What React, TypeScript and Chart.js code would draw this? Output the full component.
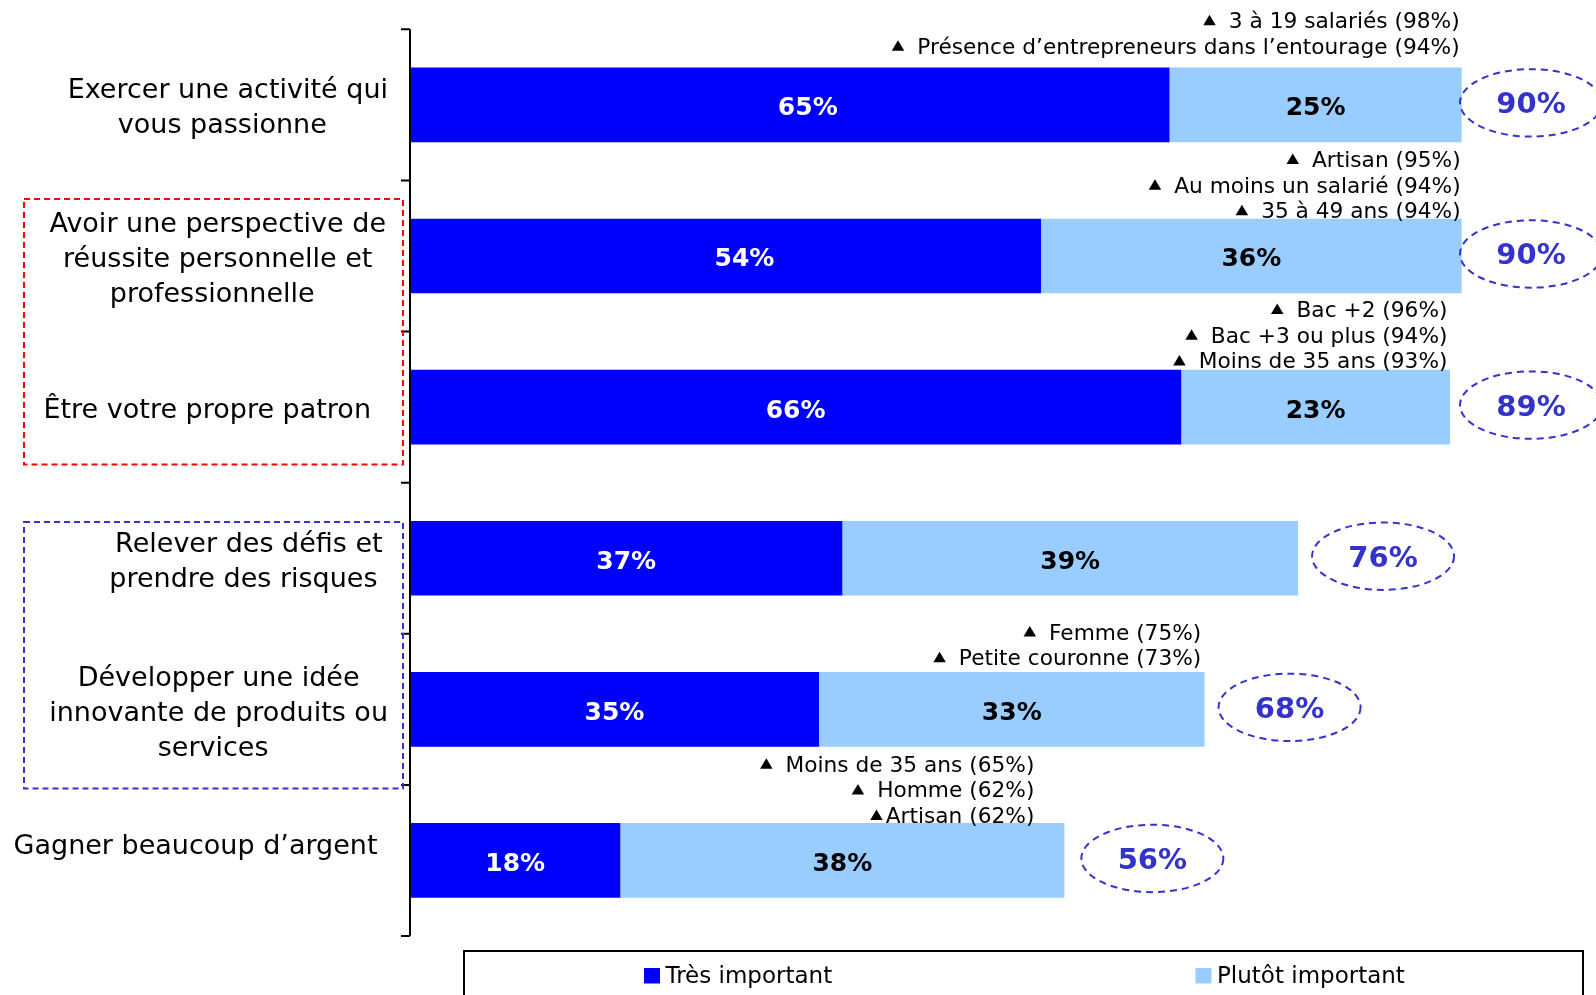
import React, { useEffect, useRef } from "react";
import { Chart, registerables } from "chart.js";

Chart.register(...registerables);

// ---------- DATA ----------
const categories: string[][] = [
  ["Exercer une activité qui", "vous passionne"],
  ["Avoir une perspective de", "réussite personnelle et", "professionnelle"],
  ["Être votre propre patron"],
  ["Relever des défis et", "prendre des risques"],
  ["Développer une idée", "innovante de produits ou", "services"],
  ["Gagner beaucoup d’argent"],
];
const seriesNames = ["Très important", "Plutôt important"];
const tresImportant = [65, 54, 66, 37, 35, 18];
const plutotImportant = [25, 36, 23, 39, 33, 38];
const totals = [90, 90, 89, 76, 68, 56];
const subgroupNotes: string[][] = [
  ["▲ 3 à 19 salariés (98%)", "▲ Présence d’entrepreneurs dans l’entourage (94%)"],
  ["▲ Artisan (95%)", "▲ Au moins un salarié (94%)", "▲ 35 à 49 ans (94%)"],
  ["▲ Bac +2 (96%)", "▲ Bac +3 ou plus (94%)", "▲ Moins de 35 ans (93%)"],
  [],
  ["▲ Femme (75%)", "▲ Petite couronne (73%)"],
  ["▲ Moins de 35 ans (65%)", "▲ Homme (62%)", "▲Artisan (62%)"],
];

// ---------- LAYOUT / STYLE ----------
const FONT = "'DejaVu Sans', Verdana, sans-serif";
const DARK = "#0000FF";
const LIGHT = "#99CCFF";
const PURPLE = "#3333CC";
const labelRight = [388, 386, 371, 383, 388, 377.5];
const labelDy = [11, 11.5, 10.7, 10.8, 12, -6.4];
const darkLabelDx = [18, 19, 0, 0, 0, 0];
const ellipseDx = [0, 0, 0, 0, 0, 3];
const noteDx = [-2, -1, -2.5, 0, -3.3, -30];
const noteDy = [-13.7, -0.3, -1.3, 0, -6.7, 0];

const overlay = {
  id: "overlay",
  afterDatasetsDraw(chart: any) {
    const ctx: CanvasRenderingContext2D = chart.ctx;
    const xs = chart.scales.x;
    const ys = chart.scales.y;
    const area = chart.chartArea;
    const n = categories.length;
    const step = (area.bottom - area.top) / n;

    ctx.save();

    // axis line + ticks
    ctx.strokeStyle = "#000";
    ctx.lineWidth = 2;
    ctx.beginPath();
    ctx.moveTo(area.left, area.top);
    ctx.lineTo(area.left, area.bottom);
    for (let i = 0; i <= n; i++) {
      const y = area.top + i * step;
      ctx.moveTo(area.left - 9, y);
      ctx.lineTo(area.left, y);
    }
    ctx.stroke();

    // category labels
    ctx.fillStyle = "#000";
    ctx.font = `27px ${FONT}`;
    ctx.textBaseline = "alphabetic";
    ctx.textAlign = "center";
    const lh = 35;
    categories.forEach((lines, i) => {
      const cy = ys.getPixelForValue(i);
      const w = Math.max(...lines.map((l) => ctx.measureText(l).width));
      const cx = labelRight[i] - w / 2;
      const first = cy + labelDy[i] - ((lines.length - 1) * lh) / 2;
      lines.forEach((l, k) => {
        const dx = lines.length > 1 && k === lines.length - 1 ? -5.5 : 0;
        ctx.fillText(l, cx + dx, first + k * lh);
      });
    });

    // dashed boxes
    ctx.lineWidth = 2;
    ctx.setLineDash([6, 4]);
    ctx.strokeStyle = "#FF0000";
    ctx.strokeRect(24, 199, 379, 265.5);
    ctx.strokeStyle = PURPLE;
    ctx.strokeRect(24, 522, 379, 266.5);
    ctx.setLineDash([]);

    const metaH = chart.getDatasetMeta(0).data;
    tresImportant.forEach((v, i) => {
      const bar = metaH[i];
      const bh = bar.height;
      const cy = bar.y;
      const x0 = xs.getPixelForValue(0);
      const x1 = xs.getPixelForValue(v);
      const x2 = xs.getPixelForValue(v + plutotImportant[i]);
      // segment labels
      ctx.font = `bold 25px ${FONT}`;
      ctx.textAlign = "center";
      ctx.fillStyle = "#FFFFFF";
      ctx.fillText(`${v}%`, (x0 + x1) / 2 + darkLabelDx[i], cy + 10.5);
      ctx.fillStyle = "#000";
      ctx.fillText(`${plutotImportant[i]}%`, (x1 + x2) / 2, cy + 10.5);

      // total ellipse
      const xt = xs.getPixelForValue(totals[i]);
      const ex = Math.min(xt + 85, 1531) + ellipseDx[i];
      const ey = cy - 2;
      ctx.strokeStyle = PURPLE;
      ctx.lineWidth = 2;
      ctx.setLineDash([7, 5]);
      ctx.beginPath();
      ctx.ellipse(ex, ey, 71, 33.7, 0, 0, Math.PI * 2);
      ctx.stroke();
      ctx.setLineDash([]);
      ctx.fillStyle = PURPLE;
      ctx.font = `bold 29px ${FONT}`;
      ctx.fillText(`${totals[i]}%`, ex, ey + 10.5);

      // subgroup notes
      const notes = subgroupNotes[i];
      if (notes.length) {
        ctx.font = `21.7px ${FONT}`;
        ctx.textAlign = "right";
        ctx.fillStyle = "#000";
        const top = cy - bh / 2;
        const xr = x2 + noteDx[i];
        const nl = 25.7;
        notes.forEach((s, k) => {
          const by = top + noteDy[i] - (notes.length - 1 - k) * nl;
          let txt = s;
          let gap = 3;
          if (s.startsWith("▲ ")) {
            txt = s.slice(2);
            gap = 13;
          } else if (s.startsWith("▲")) {
            txt = s.slice(1);
          }
          ctx.fillText(txt, xr, by);
          const tw = ctx.measureText(txt).width;
          const tr = xr - tw - gap;
          ctx.beginPath();
          ctx.moveTo(tr - 12.5, by - 3);
          ctx.lineTo(tr, by - 3);
          ctx.lineTo(tr - 6.25, by - 13.5);
          ctx.closePath();
          ctx.fill();
        });
      }
    });

    // legend
    ctx.strokeStyle = "#000";
    ctx.lineWidth = 2;
    ctx.strokeRect(464, 951, 1119, 60);
    const legendX = [644, 1195.5];
    ctx.font = `23px ${FONT}`;
    ctx.textAlign = "left";
    chart.data.datasets.forEach((ds: any, k: number) => {
      ctx.fillStyle = ds.backgroundColor;
      ctx.fillRect(legendX[k], 968, 16, 15.5);
      ctx.fillStyle = "#000";
      ctx.fillText(ds.label, legendX[k] + 21.5, 983);
    });

    ctx.restore();
  },
};

export default function App() {
  const ref = useRef<HTMLCanvasElement | null>(null);
  useEffect(() => {
    if (!ref.current) return;
    const chart = new Chart(ref.current, {
      type: "bar",
      data: {
        labels: categories,
        datasets: [
          {
            label: seriesNames[0],
            data: tresImportant,
            backgroundColor: DARK,
            borderWidth: 0,
            barPercentage: 0.494,
            categoryPercentage: 1,
          },
          {
            label: seriesNames[1],
            data: plutotImportant,
            backgroundColor: LIGHT,
            borderWidth: 0,
            barPercentage: 0.494,
            categoryPercentage: 1,
          },
        ],
      },
      options: {
        indexAxis: "y",
        responsive: false,
        maintainAspectRatio: false,
        animation: false,
        layout: { padding: { left: 410, right: 17.5, top: 29.3, bottom: 59 } },
        scales: {
          x: { stacked: true, min: 0, max: 100, display: false },
          y: { stacked: true, display: false },
        },
        plugins: { legend: { display: false }, tooltip: { enabled: false } },
      },
      plugins: [overlay],
    });
    return () => chart.destroy();
  }, []);
  return (
    <div style={{ position: "absolute", left: 0, top: 0, width: 1596, height: 995, background: "#fff" }}>
      <canvas ref={ref} width={1596} height={995} style={{ display: "block" }} />
    </div>
  );
}
